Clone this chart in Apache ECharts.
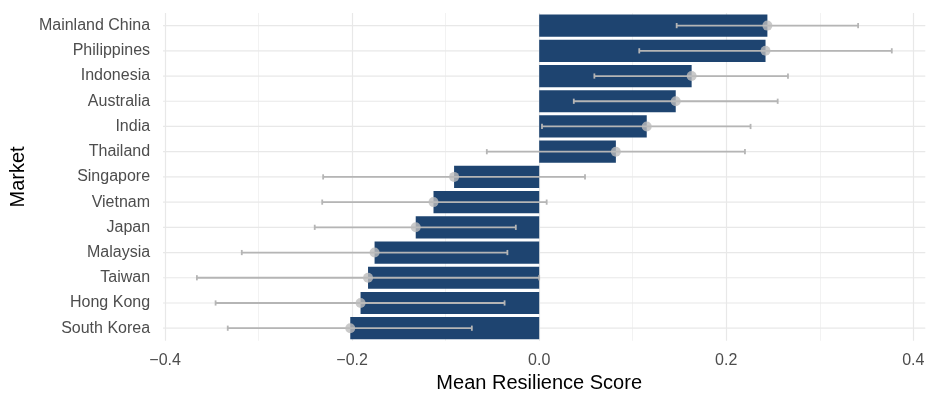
<!DOCTYPE html>
<html>
<head>
<meta charset="utf-8">
<script src="https://cdn.jsdelivr.net/npm/echarts@6/dist/echarts.min.js"></script>
<style>html,body{margin:0;padding:0;background:#fff}#c{width:936px;height:402px}</style>
</head>
<body>
<div id="c"></div>
<script>
const markets = ["Mainland China","Philippines","Indonesia","Australia","India","Thailand","Singapore","Vietnam","Japan","Malaysia","Taiwan","Hong Kong","South Korea"];
const meanScore = [0.244, 0.242, 0.163, 0.146, 0.115, 0.082, -0.091, -0.113, -0.132, -0.176, -0.183, -0.191, -0.202];
const lowerCI = [0.147, 0.107, 0.059, 0.037, 0.003, -0.056, -0.231, -0.232, -0.240, -0.318, -0.366, -0.346, -0.333];
const upperCI = [0.341, 0.377, 0.266, 0.255, 0.226, 0.220, 0.049, 0.008, -0.025, -0.034, 0.000, -0.037, -0.072];
const xTicks = [-0.4, -0.2, 0.0, 0.2, 0.4];

const chart = echarts.init(document.getElementById('c'), null, {renderer: 'canvas'});
const font = "'Liberation Sans', Arial, sans-serif";
const errData = markets.map((m, i) => [i, lowerCI[i], upperCI[i]]);
const gridData = markets.map((m, i) => [i]);

chart.setOption({
  animation: false,
  backgroundColor: '#ffffff',
  grid: {left: 160.3, right: 22.7, top: 13, bottom: 61.2},
  xAxis: {
    type: 'value', min: -0.4, max: 0.4, interval: 0.2,
    axisLine: {show: false}, axisTick: {show: false},
    axisLabel: {color: '#4d4d4d', fontSize: 16, fontFamily: font, margin: 12,
      formatter: v => { const t = xTicks.find(x => Math.abs(x - v) < 1e-9); return t === undefined ? '' : (t < 0 ? '\u2212' + Math.abs(t).toFixed(1) : t.toFixed(1)); }},
    splitLine: {show: true, lineStyle: {color: '#e8e8e8', width: 1.2}},
    minorTick: {show: false, splitNumber: 2},
    minorSplitLine: {show: true, lineStyle: {color: '#f0f0f0', width: 0.9}},
    name: 'Mean Resilience Score', nameLocation: 'middle', nameGap: 29,
    nameTextStyle: {color: '#000', fontSize: 20, fontFamily: font}
  },
  yAxis: {
    type: 'category', data: markets, inverse: true,
    axisLine: {show: false}, axisTick: {show: false},
    axisLabel: {color: '#4d4d4d', fontSize: 16, fontFamily: font, margin: 15},
    splitLine: {show: false},
    name: 'Market', nameLocation: 'middle', nameGap: 136, nameRotate: 90,
    nameTextStyle: {color: '#000', fontSize: 20, fontFamily: font}
  },
  series: [
    {
      type: 'custom', z: 0, silent: true, data: gridData,
      renderItem: (params, api) => {
        const y = api.coord([0, api.value(0)])[1];
        const cs = params.coordSys;
        return {type: 'line', shape: {x1: cs.x - 2, y1: y, x2: cs.x + cs.width + 12, y2: y},
          style: {stroke: '#e8e8e8', lineWidth: 1.2}};
      }
    },
    {
      type: 'bar', z: 2, data: meanScore, barWidth: '88%',
      itemStyle: {color: '#1e4470'}
    },
    {
      type: 'custom', z: 3, silent: true, data: errData,
      encode: {x: [1, 2], y: 0},
      renderItem: (params, api) => {
        const i = api.value(0);
        const p1 = api.coord([api.value(1), i]);
        const p2 = api.coord([api.value(2), i]);
        const h = 2.6;
        const st = {stroke: '#b5b5b5', lineWidth: 1.8};
        return {type: 'group', children: [
          {type: 'line', shape: {x1: p1[0], y1: p1[1], x2: p2[0], y2: p2[1]}, style: st},
          {type: 'line', shape: {x1: p1[0], y1: p1[1] - h, x2: p1[0], y2: p1[1] + h}, style: st},
          {type: 'line', shape: {x1: p2[0], y1: p2[1] - h, x2: p2[0], y2: p2[1] + h}, style: st}
        ]};
      }
    },
    {
      type: 'scatter', z: 4, data: meanScore.map((v, i) => [v, i]),
      symbol: 'circle', symbolSize: 10,
      itemStyle: {color: '#bdbdbd'}
    }
  ]
});
</script>
</body>
</html>
